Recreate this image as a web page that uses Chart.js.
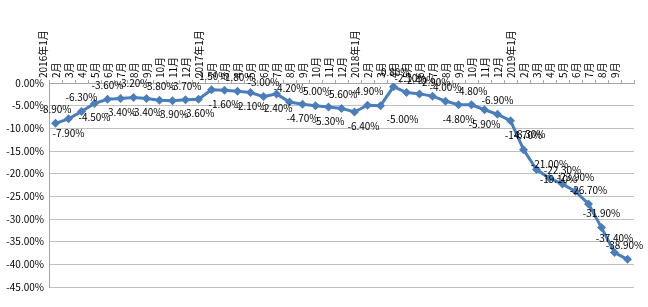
<!DOCTYPE html>
<html>
<head>
<meta charset="utf-8">
<script src="https://cdn.jsdelivr.net/npm/chart.js@4/dist/chart.umd.min.js"></script>
<style>
  html, body { margin: 0; padding: 0; background: #fff; }
  canvas { display: block; }
</style>
</head>
<body>
<canvas id="chart" width="648" height="307"></canvas>
<script>
// Meses: 2016年1月 … 2019年9月
const months = [
  '2016年1月', '2月', '3月', '4月', '5月', '6月', '7月', '8月', '9月', '10月', '11月', '12月',
  '2017年1月', '2月', '3月', '4月', '5月', '6月', '7月', '8月', '9月', '10月', '11月', '12月',
  '2018年1月', '2月', '3月', '4月', '5月', '6月', '7月', '8月', '9月', '10月', '11月', '12月',
  '2019年1月', '2月', '3月', '4月', '5月', '6月', '7月', '8月', '9月',
];

// Valores (%)
const values2016 = [-8.9, -7.9, -6.3, -4.5, -3.6, -3.4, -3.2, -3.4, -3.8, -3.9, -3.7, -3.6];
const values2017 = [-1.5, -1.6, -1.8, -2.1, -3.0, -2.4, -4.2, -4.7, -5.0, -5.3, -5.6, -6.4];
const values2018 = [-4.9, -5.0, -0.8, -2.1, -2.4, -2.9, -4.0, -4.8, -4.8, -5.9, -6.9, -8.3];
const values2019 = [-14.7, -19.1, -21.0, -22.3, -23.9, -26.7, -31.9, -37.4, -38.9];
const growth = [...values2016, ...values2017, ...values2018, ...values2019];

const yTicks = [0, -5, -10, -15, -20, -25, -30, -35, -40, -45];

const FONT = '"Noto Sans CJK SC", "Noto Sans", sans-serif';
const LINE_BLUE = '#4a7ebb';

// Desplazamientos manuales de algunas etiquetas (como las movió Excel).
const labelShift = {
  23: [9, 14], 25: [22, 14], 27: [4, -14], 29: [2, -14],
  35: [19, 14], 37: [22, 10], 44: [-3, -14],
};

/** Etiquetas de datos: alternan arriba/abajo como en el original. */
const pointLabels = {
  id: 'pointLabels',
  afterDatasetsDraw(chart) {
    const { ctx } = chart;
    const meta = chart.getDatasetMeta(0);
    ctx.save();
    ctx.font = `10px ${FONT}`;
    ctx.fillStyle = '#000';
    ctx.textAlign = 'center';
    ctx.textBaseline = 'middle';
    meta.data.forEach((pt, i) => {
      let dx = 0;
      let dy = i % 2 === 0 ? -14 : 14;
      if (i >= 38) dy = -14;
      if (labelShift[i]) [dx, dy] = labelShift[i];
      ctx.fillText(`${growth[i].toFixed(2)}%`, pt.x + dx, pt.y + dy);
    });
    ctx.restore();
  },
};

new Chart(document.getElementById('chart'), {
  type: 'line',
  data: {
    labels: months,
    datasets: [{
      data: growth,
      borderColor: LINE_BLUE,
      backgroundColor: LINE_BLUE,
      borderWidth: 3,
      tension: 0,
      pointStyle: 'rectRot',
      pointRadius: 4.5,
      pointBackgroundColor: LINE_BLUE,
      pointBorderColor: LINE_BLUE,
      pointBorderWidth: 0,
    }],
  },
  options: {
    responsive: false,
    animation: false,
    layout: { padding: { top: 0, right: 14, bottom: 20, left: 0 } },
    plugins: {
      legend: { display: false },
      tooltip: { enabled: false },
    },
    scales: {
      x: {
        position: 'top',
        offset: true,
        grid: {
          offset: true,
          drawOnChartArea: false,
          drawTicks: true,
          tickLength: 3,
          color: '#a6a6a6',
        },
        border: { color: '#a6a6a6' },
        ticks: {
          autoSkip: false,
          minRotation: 90,
          maxRotation: 90,
          padding: 2,
          color: '#000',
          font: { family: FONT, size: 10 },
        },
        afterFit: (scale) => { scale.height = 83; },
      },
      y: {
        min: -45,
        max: 0,
        afterBuildTicks: (scale) => { scale.ticks = yTicks.map((v) => ({ value: v })); },
        grid: { color: '#c0c0c0', drawTicks: false },
        border: { color: '#a6a6a6' },
        ticks: {
          padding: 5,
          color: '#000',
          font: { family: FONT, size: 10 },
          callback: (v) => `${Number(v).toFixed(2)}%`,
        },
        afterFit: (scale) => { scale.width = 49; },
      },
    },
  },
  plugins: [pointLabels],
});
</script>
</body>
</html>
